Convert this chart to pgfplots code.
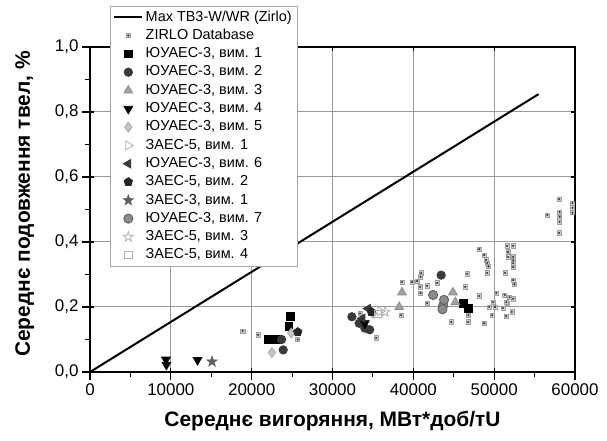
\documentclass[border=0pt]{standalone}
\usepackage{pgfplots}
\pgfplotsset{compat=1.18}
\usetikzlibrary{plotmarks}
\usepackage{fontspec}
\setmainfont{Liberation Sans}

% filled five-pointed star
\pgfdeclareplotmark{fstar}{%
  \pgfpathmoveto{\pgfpointpolar{90}{1.25\pgfplotmarksize}}%
  \pgfpathlineto{\pgfpointpolar{126}{0.5\pgfplotmarksize}}%
  \pgfpathlineto{\pgfpointpolar{162}{1.25\pgfplotmarksize}}%
  \pgfpathlineto{\pgfpointpolar{198}{0.5\pgfplotmarksize}}%
  \pgfpathlineto{\pgfpointpolar{234}{1.25\pgfplotmarksize}}%
  \pgfpathlineto{\pgfpointpolar{270}{0.5\pgfplotmarksize}}%
  \pgfpathlineto{\pgfpointpolar{306}{1.25\pgfplotmarksize}}%
  \pgfpathlineto{\pgfpointpolar{342}{0.5\pgfplotmarksize}}%
  \pgfpathlineto{\pgfpointpolar{18}{1.25\pgfplotmarksize}}%
  \pgfpathlineto{\pgfpointpolar{54}{0.5\pgfplotmarksize}}%
  \pgfpathclose\pgfusepathqfillstroke}
% open five-pointed star
\pgfdeclareplotmark{ostar}{%
  \pgfpathmoveto{\pgfpointpolar{90}{1.25\pgfplotmarksize}}%
  \pgfpathlineto{\pgfpointpolar{126}{0.5\pgfplotmarksize}}%
  \pgfpathlineto{\pgfpointpolar{162}{1.25\pgfplotmarksize}}%
  \pgfpathlineto{\pgfpointpolar{198}{0.5\pgfplotmarksize}}%
  \pgfpathlineto{\pgfpointpolar{234}{1.25\pgfplotmarksize}}%
  \pgfpathlineto{\pgfpointpolar{270}{0.5\pgfplotmarksize}}%
  \pgfpathlineto{\pgfpointpolar{306}{1.25\pgfplotmarksize}}%
  \pgfpathlineto{\pgfpointpolar{342}{0.5\pgfplotmarksize}}%
  \pgfpathlineto{\pgfpointpolar{18}{1.25\pgfplotmarksize}}%
  \pgfpathlineto{\pgfpointpolar{54}{0.5\pgfplotmarksize}}%
  \pgfpathclose\pgfusepathqstroke}
% database point: small grey box with a dark centre
\pgfdeclareplotmark{zsq}{%
  \pgfpathrectangle{\pgfpoint{-\pgfplotmarksize}{-\pgfplotmarksize}}{\pgfpoint{2\pgfplotmarksize}{2\pgfplotmarksize}}%
  \pgfusepathqfillstroke
  \begin{pgfscope}%
  \pgfsetfillcolor{black!80}%
  \pgfpathcircle{\pgfpointorigin}{0.55\pgfplotmarksize}%
  \pgfusepathqfill
  \end{pgfscope}}

\definecolor{dgray}{HTML}{3A3A3A}
\definecolor{mgray}{HTML}{8C8C8C}
\definecolor{lgray}{HTML}{C4C4C4}
\definecolor{gridc}{HTML}{9A9A9A}

\pgfplotsset{
  frame/.style={
    scale only axis, width=485bp, height=325bp,
    at={(90bp,69bp)}, anchor=south west,
    xmin=0, xmax=60000, ymin=0, ymax=1,
    xtick={0,10000,...,60000}, ytick={0,0.2,...,1.0},
    scaled x ticks=false, scaled y ticks=false,
    minor x tick num=1, minor y tick num=1,
    axis line style={line width=1.4bp},
  }
}

\begin{document}
\begin{tikzpicture}
% page extent
\path (0bp,0bp) (607bp,441bp);

% major grid (10000 steps across 485bp, 0.2 steps across 325bp)
\foreach \gx in {170.83,251.67,332.5,413.33,494.17}
  \draw[gridc, line width=1bp] (\gx bp,69bp) -- (\gx bp,394bp);
\foreach \gy in {134,199,264,329}
  \draw[gridc, line width=1bp] (90bp,\gy bp) -- (575bp,\gy bp);

% short inward ticks on all four sides
\begin{axis}[frame,
  tick align=inside,
  major tick length=4bp, minor tick length=0bp,
  major tick style={line width=1.1bp, black},
  xticklabels={}, yticklabels={}]
\end{axis}

\begin{axis}[frame,
  xtick pos=left, ytick pos=left, tick align=outside,
  major tick length=8bp, minor tick length=5bp,
  major tick style={line width=1.1bp, black},
  minor tick style={line width=1.1bp, black},
  /pgf/number format/assume math mode=true,
  xticklabel style={/pgf/number format/1000 sep={}, font=\fontsize{17}{20}\selectfont},
  yticklabel style={/pgf/number format/.cd, use comma, fixed, fixed zerofill, precision=1, /tikz/.cd, font=\fontsize{17}{20}\selectfont},
  xlabel={Середнє вигоряння, МВт*доб/тU},
  ylabel={Середнє подовження твел, \%},
  xlabel style={font=\bfseries\fontsize{21}{24}\selectfont, at={(axis description cs:0.5,-0.169)}, anchor=base},
  ylabel style={font=\bfseries\fontsize{21}{24}\selectfont, at={(axis description cs:-0.124,0.517)}, anchor=base, rotate=0},
  legend cell align=left,
  legend style={at={(0.041,1.127)}, anchor=north west, draw=gray!70, line width=0.9bp,
    font=\fontsize{14.5}{17}\selectfont, row sep=0pt,
    nodes={text height=10.5bp, text depth=3bp, inner sep=2.4bp}},
  legend image code/.code={\draw[mark repeat=2, mark phase=2, #1] plot coordinates {(0bp,0bp) (14bp,0bp) (28bp,0bp)};},
]

% limit curve
\addplot[black, line width=2bp] coordinates {(0,0) (55500,0.855)};
\addlegendentry{Max TB3-W/WR (Zirlo)}

% fuel database
\addplot[only marks, mark=zsq, mark size=2.1bp, draw=gray!75, fill=gray!35, line width=0.7bp] coordinates {
(18900,0.126) (20800,0.114) (25700,0.100) (33400,0.180) (35400,0.105)
(38500,0.175) (38600,0.277) (39850,0.277) (40960,0.305) (40900,0.293)
(40470,0.280) (40840,0.262) (41700,0.265) (40900,0.243) (41700,0.212)
(42950,0.274) (44700,0.154) (46660,0.302) (46400,0.262) (46800,0.175)
(46800,0.154) (48150,0.234) (48760,0.150) (48150,0.378) (48760,0.360)
(49000,0.345) (49130,0.335) (49300,0.325) (49130,0.305) (50250,0.243)
(49880,0.215) (49380,0.200) (49750,0.175) (50120,0.200) (51360,0.305)
(51300,0.237) (51600,0.212) (51100,0.197) (51480,0.172) (51600,0.388)
(51730,0.370) (51730,0.354) (52350,0.388) (52350,0.354) (52350,0.344)
(52350,0.335) (52350,0.323) (52350,0.283) (52500,0.270) (52350,0.225)
(51900,0.230) (52200,0.185) (51500,0.215) (56560,0.483) (58040,0.532)
(58100,0.492) (58100,0.477) (58100,0.462) (58040,0.428) (59700,0.520)
(59700,0.505) (59700,0.490)
};
\addlegendentry{ZIRLO Database}

\addplot[only marks, mark=square*, mark size=3.9bp, black, fill=black, line width=0.8bp] coordinates {
(22100,0.100) (22700,0.100) (23300,0.100) (24600,0.140) (24800,0.170)
(46200,0.210) (46800,0.196)
};
\addlegendentry{ЮУАЕС-3, вим. 1}

\addplot[only marks, mark=*, mark size=4.2bp, draw=dgray, fill=dgray, line width=0.8bp] coordinates {
(23900,0.068) (23700,0.100) (32400,0.170) (33300,0.150) (34000,0.135)
(34600,0.130) (43440,0.298)
};
\addlegendentry{ЮУАЕС-3, вим. 2}

\addplot[only marks, mark=triangle*, mark size=5bp, draw=mgray, fill=mgray!80, line width=0.8bp] coordinates {
(38250,0.200) (38600,0.245) (44900,0.245) (45200,0.215)
};
\addlegendentry{ЮУАЕС-3, вим. 3}

\addplot[only marks, mark=triangle*, mark size=5bp, mark options={rotate=180}, black, fill=black, line width=0.8bp] coordinates {
(9400,0.038) (9450,0.022) (13300,0.037) (34000,0.150)
};
\addlegendentry{ЮУАЕС-3, вим. 4}

\addplot[only marks, mark=diamond*, mark size=5bp, draw=gray!65, fill=lgray, line width=0.8bp] coordinates {
(22500,0.060) (24900,0.120) (35000,0.180)
};
\addlegendentry{ЮУАЕС-3, вим. 5}

\addplot[only marks, mark=triangle, mark size=5bp, mark options={rotate=-90}, draw=gray!60, line width=0.8bp] coordinates {
(35900,0.187)
};
\addlegendentry{ЗАЕС-5, вим. 1}

\addplot[only marks, mark=triangle*, mark size=5bp, mark options={rotate=90}, draw=dgray, fill=dgray, line width=0.8bp] coordinates {
(34400,0.195) (33700,0.165)
};
\addlegendentry{ЮУАЕС-3, вим. 6}

\addplot[only marks, mark=pentagon*, mark size=4.4bp, black!85, fill=black!85, line width=0.8bp] coordinates {
(25700,0.123) (34800,0.185)
};
\addlegendentry{ЗАЕС-5, вим. 2}

\addplot[only marks, mark=fstar, mark size=4.2bp, draw=dgray!80, fill=dgray!80, line width=0.8bp] coordinates {
(15100,0.032)
};
\addlegendentry{ЗАЕС-3, вим. 1}

\addplot[only marks, mark=*, mark size=4.6bp, draw=gray!70!black, fill=mgray, line width=0.8bp] coordinates {
(42450,0.237) (43700,0.205) (43800,0.222) (43600,0.193)
};
\addlegendentry{ЮУАЕС-3, вим. 7}

\addplot[only marks, mark=ostar, mark size=4.2bp, draw=gray!60, line width=0.8bp] coordinates {
(36500,0.185)
};
\addlegendentry{ЗАЕС-5, вим. 3}

\addplot[only marks, mark=square, mark size=3.6bp, draw=gray!60, line width=0.8bp] coordinates {
(35600,0.178)
};
\addlegendentry{ЗАЕС-5, вим. 4}

\end{axis}
\end{tikzpicture}
\end{document}
